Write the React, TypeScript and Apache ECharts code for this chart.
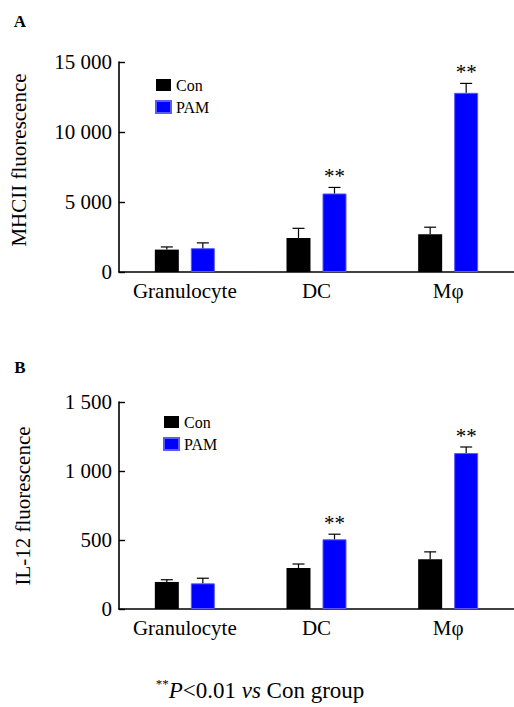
import React, { useEffect, useRef } from "react";
import * as echarts from "echarts";

const categories = ["Granulocyte", "DC", "Mφ"];

// Panel A: MHCII fluorescence
const conA = [1600, 2430, 2700];
const conASd = [190, 690, 500];
const pamA = [1700, 5610, 12800];
const pamASd = [380, 430, 670];
const sigA = [0, 1, 1];
const ticksA = [0, 5000, 10000, 15000];

// Panel B: IL-12 fluorescence
const conB = [196, 297, 360];
const conBSd = [16, 29, 54];
const pamB = [186, 505, 1130];
const pamBSd = [37, 37, 44];
const sigB = [0, 1, 1];
const ticksB = [0, 500, 1000, 1500];

const FONT = '"Liberation Serif", "Times New Roman", serif';
const BLUE = "#0000ff";
const BAR_W = 24;
const OFFSET = 18;

function fmt(v: number) {
  const s = String(v);
  return s.length > 3 ? s.slice(0, s.length - 3) + " " + s.slice(s.length - 3) : s;
}

function errSeries(vals: number[], sds: number[], sigs: number[], dx: number, gi: number) {
  return {
    type: "custom",
    xAxisIndex: gi,
    yAxisIndex: gi,
    z: 5,
    silent: true,
    data: vals.map((v, i) => [i, v, sds[i], sigs[i]]),
    encode: { x: 0, y: 1 },
    renderItem: (params: any, api: any) => {
      const idx = api.value(0);
      const mean = api.value(1);
      const sd = api.value(2);
      const sig = api.value(3);
      const b = api.coord([idx, mean]);
      const t = api.coord([idx, mean + sd]);
      const x = b[0] + dx;
      const children: any[] = [
        { type: "line", shape: { x1: x, y1: b[1], x2: x, y2: t[1] }, style: { stroke: "#000", lineWidth: 1.2 } },
        { type: "line", shape: { x1: x - 6, y1: t[1], x2: x + 6, y2: t[1] }, style: { stroke: "#000", lineWidth: 1.2 } },
      ];
      if (sig) {
        children.push({
          type: "text",
          x: x,
          y: t[1] - 11,
          style: { text: "**", font: `21px ${FONT}`, fill: "#000", textAlign: "center", textVerticalAlign: "middle" },
        });
      }
      return { type: "group", children };
    },
  };
}

export default function App() {
  const ref = useRef<HTMLDivElement>(null);
  useEffect(() => {
    if (!ref.current) return;
    const chart = echarts.init(ref.current, undefined, { renderer: "svg" });
    const grids = [
      { left: 119, top: 62, width: 403, height: 210 },
      { left: 119, top: 402, height: 207, width: 403 },
    ];
    const xAxis = [0, 1].map((gi) => ({
      type: "category",
      gridIndex: gi,
      data: categories,
      axisLine: { lineStyle: { color: "#000", width: 1.6 } },
      axisTick: { show: false },
      axisLabel: { color: "#000", fontFamily: FONT, fontSize: 21, margin: 8, interval: 0 },
    }));
    const yAxis = [
      { ticks: ticksA },
      { ticks: ticksB },
    ].map((o, gi) => ({
      type: "value",
      gridIndex: gi,
      min: 0,
      max: o.ticks[o.ticks.length - 1],
      interval: o.ticks[1] - o.ticks[0],
      axisLine: { show: true, lineStyle: { color: "#000", width: 1.6 } },
      axisTick: { show: true, inside: true, length: 6, lineStyle: { color: "#000", width: 1.4 } },
      splitLine: { show: false },
      axisLabel: { color: "#000", fontFamily: FONT, fontSize: 21, margin: 7, formatter: (v: number) => fmt(v) },
    }));
    const legendBase = {
      orient: "vertical",
      data: ["Con", "PAM"],
      icon: "rect",
      itemWidth: 15,
      itemHeight: 12,
      itemGap: 6,
      padding: 0,
      selectedMode: false,
      textStyle: { color: "#000", fontFamily: FONT, fontSize: 16 },
    };
    const barSeries = (name: string, data: number[], gi: number, color: string, border: boolean) => ({
      name,
      type: "bar",
      xAxisIndex: gi,
      yAxisIndex: gi,
      data,
      barWidth: BAR_W,
      barGap: "50%",
      itemStyle: border ? { color, borderColor: "#5a5aff", borderWidth: 1 } : { color },
    });
    chart.setOption({
      animation: false,
      backgroundColor: "#fff",
      grid: grids,
      xAxis,
      yAxis,
      legend: [
        { ...legendBase, left: 155, top: 77 },
        { ...legendBase, left: 163, top: 414 },
      ],
      series: [
        barSeries("Con", conA, 0, "#000", false),
        barSeries("PAM", pamA, 0, BLUE, true),
        barSeries("Con", conB, 1, "#000", false),
        barSeries("PAM", pamB, 1, BLUE, true),
        errSeries(conA, conASd, [0, 0, 0], -OFFSET, 0),
        errSeries(pamA, pamASd, sigA, OFFSET, 0),
        errSeries(conB, conBSd, [0, 0, 0], -OFFSET, 1),
        errSeries(pamB, pamBSd, sigB, OFFSET, 1),
      ],
      graphic: [
        { type: "text", x: 20, y: 21, style: { text: "A", font: `bold 17px ${FONT}`, fill: "#000", textAlign: "center", textVerticalAlign: "middle" } },
        { type: "text", x: 20, y: 367, style: { text: "B", font: `bold 17px ${FONT}`, fill: "#000", textAlign: "center", textVerticalAlign: "middle" } },
        { type: "text", x: 19, y: 160, rotation: Math.PI / 2, style: { text: "MHCII fluorescence", font: `21px ${FONT}`, fill: "#000", textAlign: "center", textVerticalAlign: "middle" } },
        { type: "text", x: 23, y: 506, rotation: Math.PI / 2, style: { text: "IL-12 fluorescence", font: `21px ${FONT}`, fill: "#000", textAlign: "center", textVerticalAlign: "middle" } },
        {
          type: "text",
          x: 260,
          y: 690,
          style: {
            text: "{sup|**}{i|P}{n|<0.01 }{i|vs}{n| Con group}",
            textAlign: "center",
            textVerticalAlign: "middle",
            rich: {
              sup: { fontFamily: FONT, fontSize: 13, lineHeight: 13, verticalAlign: "top", fill: "#000" },
              i: { fontFamily: FONT, fontSize: 23, fontStyle: "italic", lineHeight: 26, fill: "#000" },
              n: { fontFamily: FONT, fontSize: 23, lineHeight: 26, fill: "#000" },
            },
          },
        },
      ],
    });
    return () => chart.dispose();
  }, []);
  return <div ref={ref} style={{ position: "fixed", left: 0, top: 0, width: 514, height: 707 }} />;
}
